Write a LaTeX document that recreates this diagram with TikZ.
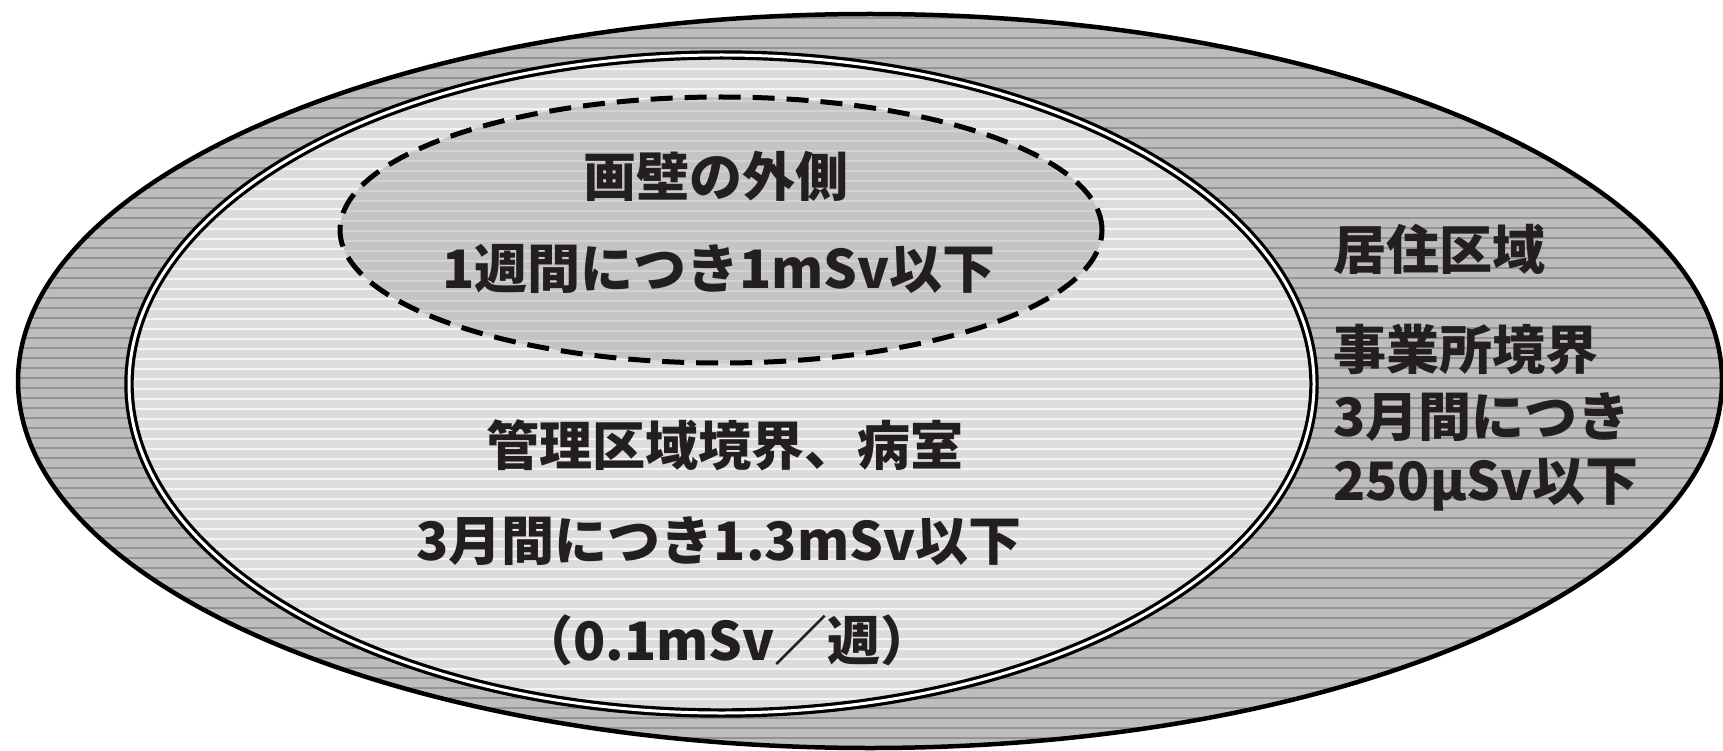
\documentclass[tikz,border=0pt]{standalone}
\usepackage{fontspec}
\setmainfont{Noto Sans CJK JP}
\usetikzlibrary{shapes.geometric}
\definecolor{outerfill}{HTML}{BDBDBD}
\definecolor{outerline}{HTML}{939393}
\definecolor{innerfill}{HTML}{DCDCDC}
\definecolor{innerline}{HTML}{F5F5F5}
\definecolor{dashfill}{HTML}{C4C4C4}
\definecolor{dashline}{HTML}{D2D2D2}
\definecolor{ink}{HTML}{231F20}
\tikzset{
  stripes/.style={path picture={
    \foreach \k in {0,...,80}{
      \draw[#1,line width=1.2pt,solid]
        ([yshift=-\k*10pt-4pt]path picture bounding box.north west) --
        ([yshift=-\k*10pt-4pt]path picture bounding box.north east);
    }}},
  zone/.style={ellipse,inner sep=0pt,outer sep=0pt},
  lbl/.style={font=\fontsize{53}{60}\selectfont\bfseries,text=ink,inner sep=0pt},
}
\begin{document}
\begin{tikzpicture}[x=1pt,y=-1pt]
\useasboundingbox (0,0) rectangle (1723,751);
% outer ellipse
\node[zone,fill=outerfill,stripes=outerline,
      minimum width=1704pt,minimum height=734pt] (outer) at (870,381) {};
\draw[line width=4.5pt] (outer.center) ellipse[x radius=852pt,y radius=367pt];
% inner double ellipse
\node[zone,fill=innerfill,stripes=innerline,
      minimum width=1185pt,minimum height=658pt] (inner) at (721.5,384) {};
\draw[line width=3.2pt,double=white,double distance=3pt]
  (inner.center) ellipse[x radius=592.5pt,y radius=329pt];
% dashed ellipse
\node[zone,fill=dashfill,stripes=dashline,
      minimum width=762pt,minimum height=266pt] (wall) at (721,230) {};
\draw[line width=5pt,dash pattern=on 22pt off 12pt]
  (wall.center) ellipse[x radius=381pt,y radius=133pt];
% texts
\node[lbl] (t1) at (716,176) {画壁の外側};
\node[lbl] (t2) at (719,269) {1週間につき1mSv以下};
\node[lbl] (t3) at (725,445) {管理区域境界、病室};
\node[lbl] (t4) at (719,541) {3月間につき1.3mSv以下};
\node[lbl] (t5) at (727,640) {（0.1mSv／週）};
\node[lbl,anchor=west] (r1) at (1333,249) {居住区域};
\node[lbl,anchor=west] (r2) at (1333,350) {事業所境界};
\node[lbl,anchor=west] (r3) at (1333,417) {3月間につき};
\node[lbl,anchor=west] (r4) at (1333,485) {250μSv以下};
\end{tikzpicture}
\end{document}
